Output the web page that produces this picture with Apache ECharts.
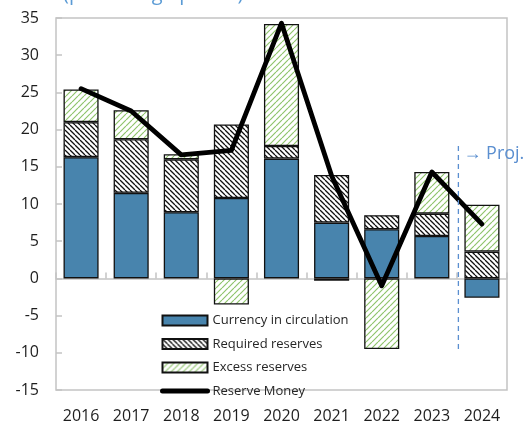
<!DOCTYPE html>
<html>
<head>
<meta charset="utf-8">
<script src="https://cdn.jsdelivr.net/npm/echarts@6/dist/echarts.min.js"></script>
<style>
html,body{margin:0;padding:0;background:#fff;}
#main{width:531px;height:426px;}
</style>
</head>
<body>
<div id="main"></div>
<script>
const years = ['2016','2017','2018','2019','2020','2021','2022','2023','2024'];
const currency = [16.3, 11.5, 8.9, 10.8, 16.1, 7.5, 6.6, 5.7, -2.6];
const required = [4.7, 7.2, 7.1, 9.9, 1.7, 6.4, 1.9, 3.0, 3.6];
const excess = [4.4, 3.9, 0.7, -3.5, 16.4, -0.3, -9.5, 5.6, 6.3];
const reserveMoney = [25.5, 22.5, 16.6, 17.2, 34.3, 13.8, -1.0, 14.3, 7.3];
const seriesNames = ['Currency in circulation','Required reserves','Excess reserves','Reserve Money'];
const yTicks = {min: -15, max: 35, interval: 5};
const projection = {fromIndex: 7, toIndex: 8, top: 17.8, bottom: -9.9, label: '\u2192 Proj.'};
const titleText = '(percentage points)';

function hatch(size, color, lw, dir) {
  const c = document.createElement('canvas');
  c.width = size; c.height = size;
  const g = c.getContext('2d');
  g.fillStyle = '#fff';
  g.fillRect(0,0,size,size);
  g.strokeStyle = color;
  g.lineWidth = lw;
  g.beginPath();
  for (let k = -1; k <= 1; k++) {
    if (dir === 'back') {
      g.moveTo(k*size, 0); g.lineTo(k*size + size, size);
    } else {
      g.moveTo(k*size, size); g.lineTo(k*size + size, 0);
    }
  }
  g.stroke();
  return c;
}
const reqPattern = {image: hatch(5, '#111', 1.3, 'back'), repeat: 'repeat'};
const excPattern = {image: hatch(6, '#8fc46c', 1.2, 'fwd'), repeat: 'repeat'};

const chart = echarts.init(document.getElementById('main'), null, {renderer: 'canvas'});
const font = '"Open Sans", "Noto Sans", sans-serif';
const titleGraphic = {id: 'title', type: 'text', left: 63, top: -16, style: {text: titleText, fontSize: 20, fontFamily: font, fill: '#5b9bd5'}};
const option = {
  animation: false,
  backgroundColor: '#fff',
  textStyle: {fontFamily: font},
  grid: {left: 56, top: 18, right: 24, bottom: 36, show: true, borderColor: '#c3c3c3', borderWidth: 1.5, outerBoundsMode: 'none', containLabel: false},
  legend: {
    orient: 'vertical', left: 160, top: 314, padding: 0,
    itemWidth: 45, itemHeight: 10, itemGap: 10.5,
    textStyle: {fontSize: 13, color: '#262626', fontFamily: font},
    data: [
      {name: seriesNames[0], icon: 'rect'},
      {name: seriesNames[1], icon: 'rect'},
      {name: seriesNames[2], icon: 'rect'},
      {name: seriesNames[3], itemStyle: {opacity: 0}, lineStyle: {width: 5, color: '#000', cap: 'round'}}
    ]
  },
  xAxis: [
    {type: 'category', data: years, position: 'bottom', boundaryGap: true,
     axisLine: {show: true, onZero: true, lineStyle: {color: '#c3c3c3', width: 1.5}},
     axisTick: {show: true, inside: true, length: 6, lineStyle: {color: '#c3c3c3', width: 1.5}},
     axisLabel: {show: false}, splitLine: {show: false}},
    {type: 'category', data: years, position: 'bottom', boundaryGap: true,
     axisLine: {show: false, onZero: false}, axisTick: {show: false},
     axisLabel: {show: true, fontSize: 16, color: '#1e1e1e', margin: 18, fontFamily: font}, splitLine: {show: false}}
  ],
  yAxis: {
    type: 'value', min: yTicks.min, max: yTicks.max, interval: yTicks.interval,
    axisLine: {show: false},
    axisTick: {show: true, inside: true, length: 6, lineStyle: {color: '#c3c3c3', width: 1.5}},
    axisLabel: {fontSize: 16, color: '#1e1e1e', margin: 17, fontFamily: font},
    splitLine: {show: false}
  },
  series: [
    {name: seriesNames[0], type: 'bar', stack: 'rm', data: currency, barWidth: '70%', xAxisIndex: 0,
     itemStyle: {color: '#4884ad', borderColor: '#111', borderWidth: 1.3}},
    {name: seriesNames[1], type: 'bar', stack: 'rm', data: required, barWidth: '70%', xAxisIndex: 0,
     itemStyle: {color: reqPattern, borderColor: '#111', borderWidth: 1.3}},
    {name: seriesNames[2], type: 'bar', stack: 'rm', data: excess, barWidth: '70%', xAxisIndex: 0,
     itemStyle: {color: excPattern, borderColor: '#111', borderWidth: 1.3}},
    {name: seriesNames[3], type: 'line', data: reserveMoney, xAxisIndex: 0, symbol: 'none', z: 5,
     lineStyle: {color: '#000', width: 4.8, join: 'round', cap: 'round'}, itemStyle: {color: '#000'}}
  ],
  graphic: [titleGraphic]
};
chart.setOption(option);

const xa = chart.convertToPixel({xAxisIndex: 0}, projection.fromIndex);
const xb = chart.convertToPixel({xAxisIndex: 0}, projection.toIndex);
const px = (xa + xb) / 2 + 1.5;
const yT = chart.convertToPixel({yAxisIndex: 0}, projection.top);
const yB = chart.convertToPixel({yAxisIndex: 0}, projection.bottom);
chart.setOption({graphic: [
  titleGraphic,
  {id: 'projLine', type: 'line', shape: {x1: px, y1: yT, x2: px, y2: yB}, style: {stroke: '#5b8fd0', lineWidth: 1.3, lineDash: [5, 4]}, z: 10},
  {id: 'projText', type: 'text', x: px + 5, y: yT + 8, style: {text: projection.label, fontSize: 18, fontFamily: font, fill: '#5b8fd0', verticalAlign: 'middle'}, z: 10}
]});
</script>
</body>
</html>
